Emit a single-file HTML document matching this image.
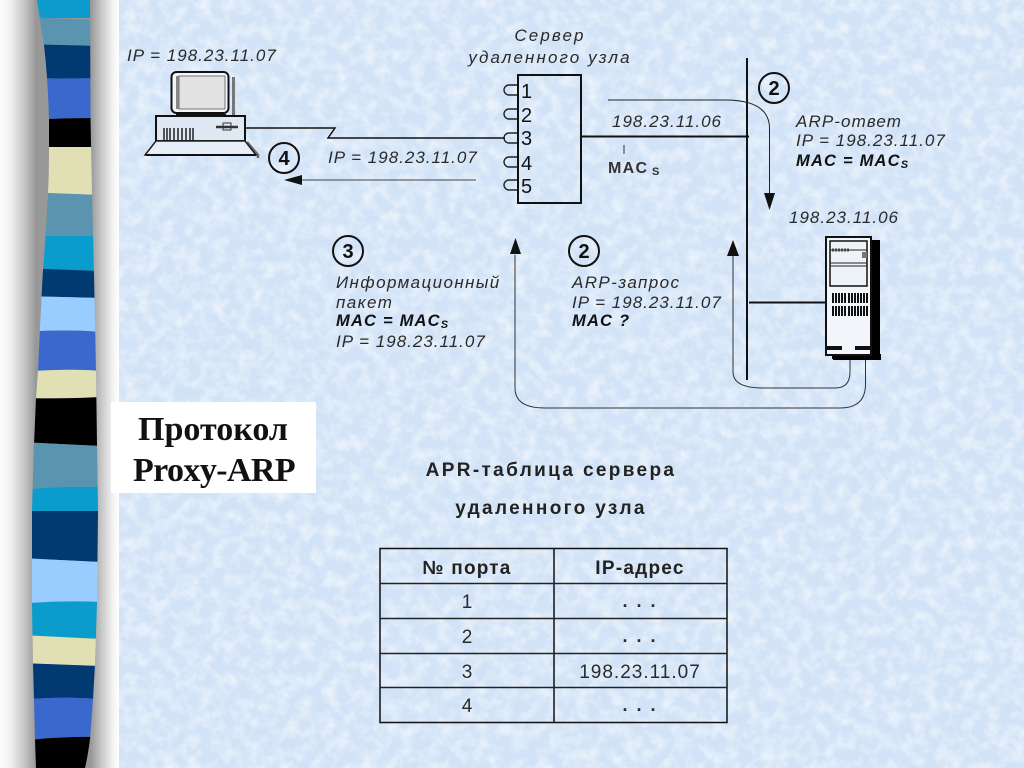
<!DOCTYPE html>
<html><head><meta charset="utf-8"><style>
html,body{margin:0;padding:0;width:1024px;height:768px;overflow:hidden}
svg{display:block}
text{font-family:"Liberation Sans",sans-serif;fill:#2a2a2a}
.i{font-style:italic;font-size:17px;letter-spacing:1px}
.r{font-style:italic;font-size:17px;letter-spacing:1.4px}
.b{font-weight:bold;font-style:italic;font-size:16.5px;letter-spacing:1.2px;fill:#111}
.n{font-size:20px;fill:#111}
.t{font-size:19px}
.d{font-size:18px;font-weight:bold;letter-spacing:2px}
.h{font-size:19px;font-weight:bold;letter-spacing:2.35px;fill:#222}
.c{font-size:20px;font-weight:bold;fill:#111}
.p{font-family:"Liberation Serif",serif;font-weight:bold;font-size:34px;fill:#111}
</style></head><body>
<svg width="1024" height="768" viewBox="0 0 1024 768" xmlns="http://www.w3.org/2000/svg">
<defs>
<filter id="tex" x="0" y="0" width="100%" height="100%">
<feTurbulence type="fractalNoise" baseFrequency="0.08" numOctaves="4" seed="7"/>
<feColorMatrix type="matrix" values="0 0 0 0 1  0 0 0 0 1  0 0 0 0 1  2.2 0 0 0 -0.85"/>
</filter>
<linearGradient id="gl" x1="0" x2="1" y1="0" y2="0"><stop offset="0" stop-color="#fbfcfe"/><stop offset=".3" stop-color="#f2f1f1"/><stop offset=".7" stop-color="#c2c2c2"/><stop offset="1" stop-color="#989898"/></linearGradient>
<linearGradient id="gr" x1="0" x2="1" y1="0" y2="0"><stop offset="0" stop-color="#959595"/><stop offset=".4" stop-color="#c8c8c8"/><stop offset=".8" stop-color="#f4f4f4"/><stop offset="1" stop-color="#fff"/></linearGradient>
<clipPath id="rib"><path d="M37,0 Q40,20 44,45 Q48,80 49,119 L49,150 Q49,175 48,193 Q46,235 43,270 Q41,305 38,371 L36,398 L34,445 L32,511 L32,603 L33,664 L34,699 L35,739 L36,768 L85,768 Q88,755 90,739 L93,699 L95,664 L97,603 L98,511 L97,445 L96,371 L94.5,297 L92,193 L90.5,119 L90,0 Z"/></clipPath>
</defs>
<rect width="1024" height="768" fill="#d2e3f7"/>
<rect x="119" width="905" height="768" filter="url(#tex)" opacity=".55"/>

<!-- left band -->
<rect x="0" y="0" width="36" height="768" fill="url(#gl)"/>
<rect x="35" y="0" width="57" height="768" fill="#989898"/>
<rect x="90" y="0" width="29" height="768" fill="url(#gr)"/>
<g clip-path="url(#rib)">
<rect x="20" y="0" width="90" height="18" fill="#0b9bcc"/>
<path d="M20,17 L100,20 L100,46 L20,44Z" fill="#5b94ae"/>
<path d="M20,44 L100,46 L100,79 L20,78Z" fill="#003a70"/>
<path d="M20,79 L100,78 L100,118 Q70,118 20,120Z" fill="#3a68cc"/>
<path d="M20,120 Q70,118 100,118 L100,147 L20,147Z" fill="#000"/>
<path d="M20,147 L100,147 L100,195 L20,192Z" fill="#e0e0b4"/>
<path d="M20,192 L100,195 L100,236 L20,236Z" fill="#5b94ae"/>
<path d="M20,236 L100,236 L100,271 L20,268Z" fill="#0a9ccc"/>
<path d="M20,268 L100,271 L100,298 L20,296Z" fill="#003a70"/>
<path d="M20,296 L100,298 L100,332 Q70,329 20,332Z" fill="#99ccff"/>
<path d="M20,332 Q70,329 100,332 L100,371 Q70,368 20,372Z" fill="#3a68cc"/>
<path d="M20,372 Q70,368 100,371 L100,397 Q70,399 20,398Z" fill="#e0e0b4"/>
<path d="M20,398 Q70,399 100,397 L100,446 L20,442Z" fill="#000"/>
<path d="M20,442 L100,446 L100,487 Q60,486 20,490Z" fill="#5b94ae"/>
<path d="M20,490 Q60,486 100,487 L100,511 L20,511Z" fill="#0a9ccc"/>
<path d="M20,511 L100,511 L100,562 L20,558Z" fill="#003a70"/>
<path d="M20,558 L100,562 L100,602 Q60,600 20,604Z" fill="#99ccff"/>
<path d="M20,604 Q60,600 100,602 L100,639 L20,635Z" fill="#0a9ccc"/>
<path d="M20,635 L100,639 L100,666 L20,663Z" fill="#e0e0b4"/>
<path d="M20,663 L100,666 L100,699 Q60,696 20,700Z" fill="#003a70"/>
<path d="M20,700 Q60,696 100,699 L100,737 Q60,736 20,741Z" fill="#3a68cc"/>
<path d="M20,741 Q60,736 100,737 L100,768 L20,768Z" fill="#000"/>
</g>

<!-- title box -->
<rect x="111" y="402" width="205" height="91" fill="#fff"/>
<text class="p" x="213" y="440" text-anchor="middle">Протокол</text>
<text class="p" x="214" y="481" text-anchor="middle" style="letter-spacing:-.6px">Proxy-ARP</text>

<!-- PC -->
<text class="i" x="127" y="61">IP = 198.23.11.07</text>
<g>
<rect x="232" y="77" width="3" height="47" fill="#777"/>
<rect x="171.500" y="72" width="57" height="41" rx="5" fill="#f2f6fa" stroke="#111" stroke-width="2"/>
<rect x="176" y="76" width="3" height="33" fill="#888"/>
<rect x="179" y="76" width="46" height="33" fill="#e2e2e2" stroke="#777"/>
<path d="M176,114 H226 V116 H176Z" fill="#111"/>
<rect x="156" y="116" width="89" height="25" fill="#dfe9f4" stroke="#111" stroke-width="2"/>
<path d="M164,140 V128 M167,140 V128 M170,140 V128 M174,140 V128 M178,140 V128 M182,140 V128 M186,140 V128 M190,140 V128 M193,140 V128" stroke="#222" stroke-width="1.500"/>
<path d="M216,127 H238" stroke="#333" stroke-width="2.500"/>
<rect x="223" y="123" width="8" height="7" fill="none" stroke="#333"/>
<path d="M247,142 L258,155 V158" fill="none" stroke="#666" stroke-width="2.500"/>
<path d="M156,141 L145,155 H256 L245,141Z" fill="#e6eef7" stroke="#222" stroke-width="1.500"/>
<path d="M146,155 H256" stroke="#111" stroke-width="2"/>
</g>
<path d="M246,128 H335 L328,138 H505" fill="none" stroke="#111" stroke-width="1.500"/>
<circle cx="284" cy="158" r="15" fill="none" stroke="#111" stroke-width="2"/>
<text class="c" x="284" y="165" text-anchor="middle">4</text>
<text class="i" x="328" y="163">IP = 198.23.11.07</text>
<path d="M302,180 H476" stroke="#444" stroke-width="1"/>
<path d="M284,180 L302,175 V185Z" fill="#111"/>

<!-- Server node -->
<text class="r" x="550" y="41" text-anchor="middle" style="letter-spacing:2.100px">Сервер</text>
<text class="r" x="550" y="63" text-anchor="middle" style="letter-spacing:2.100px">удаленного узла</text>
<rect x="518" y="75" width="63" height="128" fill="none" stroke="#111" stroke-width="2"/>
<g fill="none" stroke="#222" stroke-width="1.400">
<path d="M517,85 H509 A4,4 0 0 0 509,95 H517"/>
<path d="M517,109 H509 A4,4 0 0 0 509,119 H517"/>
<path d="M517,133 H509 A4,4 0 0 0 509,143 H517"/>
<path d="M517,157 H509 A4,4 0 0 0 509,167 H517"/>
<path d="M517,180 H509 A4,4 0 0 0 509,190 H517"/>
</g>
<text class="n" x="521" y="98">1</text>
<text class="n" x="521" y="122">2</text>
<text class="n" x="521" y="145">3</text>
<text class="n" x="521" y="170">4</text>
<text class="n" x="521" y="193">5</text>
<path d="M582,136.500 H749" stroke="#111" stroke-width="2"/>
<text class="i" x="612" y="127">198.23.11.06</text>
<path d="M624,145 V154" stroke="#333"/>
<text x="608" y="173" style="font-size:16px;font-weight:bold;letter-spacing:1.300px;fill:#333">MAC</text>
<text x="652" y="175" style="font-size:11px;font-weight:bold;fill:#333">S</text>

<!-- vertical bus -->
<path d="M747,58 V380" stroke="#111" stroke-width="2"/>
<path d="M608,100 H725 Q769,100 769.500,128 V195" fill="none" stroke="#222" stroke-width="1"/>
<path d="M764,193 H775 L769.500,210Z" fill="#111"/>
<circle cx="774" cy="88" r="15" fill="none" stroke="#111" stroke-width="2"/>
<text class="c" x="774" y="95" text-anchor="middle">2</text>
<text class="r" x="796" y="127" style="letter-spacing:1.100px">ARP-ответ</text>
<text class="i" x="796" y="146">IP = 198.23.11.07</text>
<text class="b" x="796" y="166">MAC = MAC<tspan font-size="11" dy="2">S</tspan></text>

<!-- Server tower -->
<text class="i" x="789" y="223">198.23.11.06</text>
<rect x="832" y="240" width="48" height="119" fill="#000"/>
<rect x="833" y="354" width="48" height="6" fill="#000"/>
<rect x="826" y="237" width="45" height="118" fill="#f2f6fa" stroke="#111" stroke-width="2"/>
<rect x="830" y="241" width="37" height="45" fill="#eef3f8" stroke="#111" stroke-width="1.500"/>
<path d="M830,250 H867 M830,263 H867 M830,266 H867" stroke="#222" stroke-width="1"/>
<rect x="862" y="252" width="5" height="6" fill="#777"/>
<path d="M832,250 H850" stroke="#444" stroke-dasharray="2 1" stroke-width="3"/>
<g stroke="#111" stroke-width="2">
<path d="M833,293 V303 M836,293 V303 M839,293 V303 M842,293 V303 M845,293 V303 M849,293 V303 M852,293 V303 M855,293 V303 M858,293 V303 M861,293 V303 M864,293 V303 M867,293 V303"/>
<path d="M833,306 V316 M836,306 V316 M839,306 V316 M842,306 V316 M845,306 V316 M849,306 V316 M852,306 V316 M855,306 V316 M858,306 V316 M861,306 V316 M864,306 V316 M867,306 V316"/>
</g>
<path d="M826,348 H842 M855,348 H871" stroke="#111" stroke-width="4"/>
<path d="M749,302.500 H826" stroke="#111" stroke-width="2"/>

<!-- return arrows -->
<path d="M733,255 V372 Q733,388 763,388 H835 Q850,388 850,372 V360" fill="none" stroke="#333" stroke-width="1"/>
<path d="M727,256 H739 L733,240Z" fill="#111"/>
<path d="M515,255 V388 Q515,408 545,408 H840 Q865,408 865.500,385 V360" fill="none" stroke="#333" stroke-width="1"/>
<path d="M510,254 H521 L515.500,238Z" fill="#111"/>

<circle cx="348" cy="251" r="15" fill="none" stroke="#111" stroke-width="2"/>
<text class="c" x="348" y="258" text-anchor="middle">3</text>
<text class="r" x="336" y="288">Информационный</text>
<text class="r" x="336" y="308">пакет</text>
<text class="b" x="336" y="326">MAC = MAC<tspan font-size="11" dy="2">S</tspan></text>
<text class="i" x="336" y="347">IP = 198.23.11.07</text>

<circle cx="584" cy="251" r="15" fill="none" stroke="#111" stroke-width="2"/>
<text class="c" x="584" y="258" text-anchor="middle">2</text>
<text class="r" x="572" y="288">ARP-запрос</text>
<text class="i" x="572" y="308">IP = 198.23.11.07</text>
<text class="b" x="572" y="326">MAC ?</text>

<!-- table -->
<text class="h" x="551" y="476" text-anchor="middle">APR-таблица сервера</text>
<text class="h" x="551" y="514" text-anchor="middle">удаленного узла</text>
<rect x="380" y="548.500" width="347" height="174" fill="none" stroke="#111" stroke-width="1.500"/>
<path d="M554,548 V722" stroke="#111" stroke-width="1.500"/>
<path d="M380,583.500 H727 M380,618.500 H727 M380,653.500 H727 M380,687.500 H727" stroke="#222" stroke-width="1.500"/>
<text x="467" y="574" text-anchor="middle" style="font-size:19px;font-weight:bold;letter-spacing:1.200px;fill:#222">№ порта</text>
<text x="640" y="574" text-anchor="middle" style="font-size:19px;font-weight:bold;letter-spacing:1.250px;fill:#222">IP-адрес</text>
<text class="t" x="467" y="608" text-anchor="middle">1</text>
<text class="t" x="467" y="643" text-anchor="middle">2</text>
<text class="t" x="467" y="678" text-anchor="middle">3</text>
<text class="t" x="467" y="712" text-anchor="middle">4</text>
<text class="d" x="640" y="607" text-anchor="middle">. . .</text>
<text class="d" x="640" y="642" text-anchor="middle">. . .</text>
<text class="t" x="640" y="678" text-anchor="middle" style="letter-spacing:1px">198.23.11.07</text>
<text class="d" x="640" y="711" text-anchor="middle">. . .</text>
</svg>
</body></html>
